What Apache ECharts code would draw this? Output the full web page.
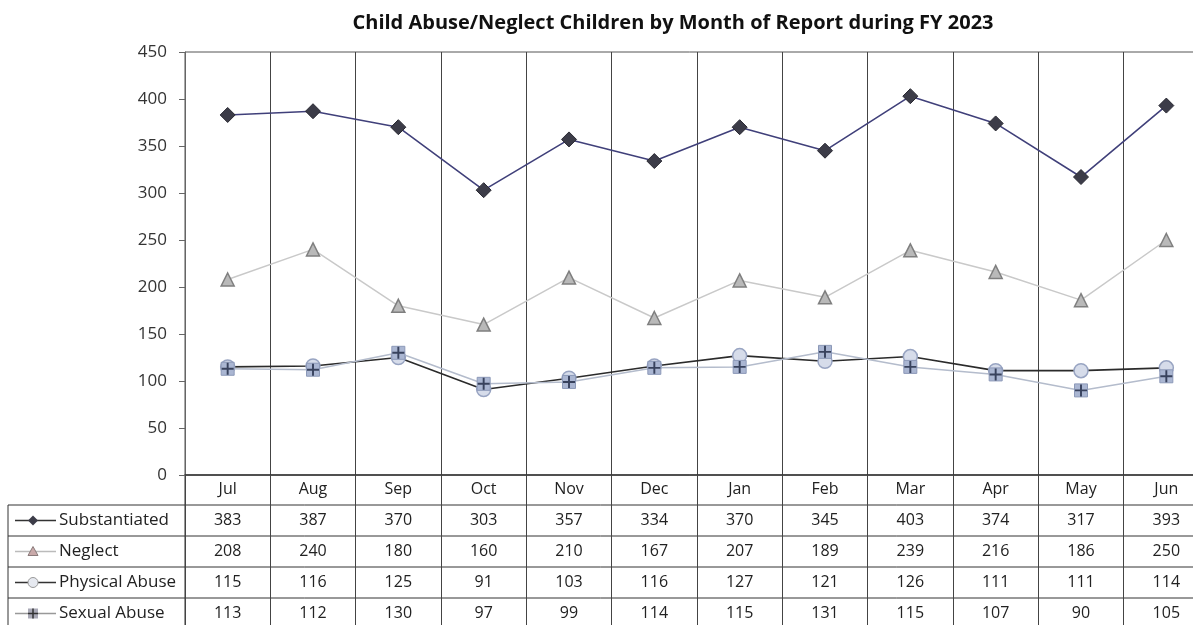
<!DOCTYPE html>
<html>
<head>
<meta charset="utf-8">
<script src="https://cdn.jsdelivr.net/npm/echarts@6/dist/echarts.min.js"></script>
<style>
  html, body { margin: 0; padding: 0; background: #fff; }
  #chart { width: 1193px; height: 625px; }
</style>
</head>
<body>
<div id="chart"></div>
<script>
// data (table under the chart)
const months = ['Jul', 'Aug', 'Sep', 'Oct', 'Nov', 'Dec', 'Jan', 'Feb', 'Mar', 'Apr', 'May', 'Jun'];
const substantiated = [383, 387, 370, 303, 357, 334, 370, 345, 403, 374, 317, 393];
const neglect = [208, 240, 180, 160, 210, 167, 207, 189, 239, 216, 186, 250];
const physicalAbuse = [115, 116, 125, 91, 103, 116, 127, 121, 126, 111, 111, 114];
const sexualAbuse = [113, 112, 130, 97, 99, 114, 115, 131, 115, 107, 90, 105];
const yTicks = [0, 50, 100, 150, 200, 250, 300, 350, 400, 450];

const FONT = '"Open Sans", Lato, sans-serif';
const PLUS = 'path://M4.2,0h1.6v4.2h4.2v1.6h-4.2v4.2h-1.6v-4.2h-4.2v-1.6h4.2z';

const chart = echarts.init(document.getElementById('chart'));

const option = {
  animation: false,
  backgroundColor: '#fff',
  textStyle: { fontFamily: FONT },
  title: {
    text: 'Child Abuse/Neglect Children by Month of Report during FY 2023',
    left: 668,
    textAlign: 'center',
    top: 8,
    textStyle: { fontSize: 20, fontWeight: 'bold', color: '#111', fontFamily: FONT }
  },
  grid: {
    left: 185,
    top: 52,
    right: -16,
    height: 423,
    outerBoundsMode: 'none',
    containLabel: false,
    show: true,
    borderColor: '#555',
    borderWidth: 1
  },
  xAxis: {
    type: 'category',
    data: months,
    boundaryGap: true,
    axisLine: { lineStyle: { color: '#333', width: 1.5 } },
    axisTick: { show: true, interval: 0, length: 150, lineStyle: { color: '#444', width: 1 } },
    axisLabel: { interval: 0, margin: 6, fontSize: 16, color: '#222', fontFamily: FONT },
    splitLine: { show: true, interval: 0, lineStyle: { color: '#444', width: 1 } }
  },
  yAxis: {
    type: 'value',
    min: yTicks[0],
    max: yTicks[yTicks.length - 1],
    interval: 50,
    axisLine: { show: true, lineStyle: { color: '#666' } },
    axisTick: { show: true, length: 6, lineStyle: { color: '#666' } },
    axisLabel: { fontSize: 17, color: '#333', margin: 18, fontFamily: FONT },
    splitLine: { show: false }
  },
  series: [
    {
      name: 'Substantiated',
      type: 'line',
      data: substantiated,
      symbol: 'diamond',
      symbolSize: 15,
      lineStyle: { color: '#40407a', width: 1.6 },
      itemStyle: { color: '#3c3c48', borderColor: '#2a2a33', borderWidth: 1 },
      z: 3
    },
    {
      name: 'Neglect',
      type: 'line',
      data: neglect,
      symbol: 'triangle',
      symbolSize: 13,
      lineStyle: { color: '#c9c9c9', width: 1.5 },
      itemStyle: { color: '#b9b9b9', borderColor: '#7f7f7f', borderWidth: 1.5 },
      z: 3
    },
    {
      name: 'Physical Abuse',
      type: 'line',
      data: physicalAbuse,
      symbol: 'circle',
      symbolSize: 14,
      lineStyle: { color: '#2b2b2b', width: 1.6 },
      itemStyle: { color: '#d6dcea', borderColor: '#98a4c2', borderWidth: 1.5 },
      z: 4
    },
    {
      name: 'Sexual Abuse',
      type: 'line',
      data: sexualAbuse,
      symbol: 'rect',
      symbolSize: 13,
      lineStyle: { color: '#b4bccc', width: 1.5 },
      itemStyle: { color: '#aab6d2', borderColor: '#8c99b8', borderWidth: 1 },
      z: 5
    },
    {
      name: 'Sexual Abuse cross',
      type: 'scatter',
      data: sexualAbuse,
      symbol: PLUS,
      symbolSize: 12,
      itemStyle: { color: '#1c2540' },
      silent: true,
      z: 6
    }
  ]
};

chart.setOption(option);

// data table under the plot
const rows = [
  { name: 'Substantiated', values: substantiated, shape: 'diamond' },
  { name: 'Neglect', values: neglect, shape: 'triangle' },
  { name: 'Physical Abuse', values: physicalAbuse, shape: 'circle' },
  { name: 'Sexual Abuse', values: sexualAbuse, shape: 'square' }
];
const rowTop = 505;
const rowH = 31;
const tableLeft = 8;
const plotLeft = 185;

function legendIcon(shape, cx, cy) {
  const els = [];
  const lineColor = { diamond: '#333', triangle: '#bbb', circle: '#333', square: '#999' }[shape];
  els.push({ type: 'line', shape: { x1: 15, y1: cy, x2: 56, y2: cy }, style: { stroke: lineColor, lineWidth: 1.5 } });
  if (shape === 'diamond') {
    els.push({ type: 'polygon', shape: { points: [[cx, cy - 5], [cx + 5, cy], [cx, cy + 5], [cx - 5, cy]] }, style: { fill: '#3c3c48' } });
  } else if (shape === 'triangle') {
    els.push({ type: 'polygon', shape: { points: [[cx, cy - 5], [cx + 5, cy + 4], [cx - 5, cy + 4]] }, style: { fill: '#c9a9a9', stroke: '#8a7a7a', lineWidth: 1 } });
  } else if (shape === 'circle') {
    els.push({ type: 'circle', shape: { cx: cx, cy: cy, r: 5 }, style: { fill: '#e6e9f0', stroke: '#999', lineWidth: 1 } });
  } else {
    els.push({ type: 'rect', shape: { x: cx - 5, y: cy - 5, width: 10, height: 10 }, style: { fill: '#a9a9b6' } });
    els.push({ type: 'line', shape: { x1: cx, y1: cy - 5, x2: cx, y2: cy + 5 }, style: { stroke: '#333', lineWidth: 1.5 } });
    els.push({ type: 'line', shape: { x1: cx - 5, y1: cy, x2: cx + 5, y2: cy }, style: { stroke: '#333', lineWidth: 1.5 } });
  }
  return els;
}

const graphics = [];
// horizontal rules
for (let r = 0; r < rows.length; r++) {
  graphics.push({
    type: 'line',
    shape: { x1: tableLeft, y1: rowTop + r * rowH, x2: 1193, y2: rowTop + r * rowH },
    style: { stroke: '#333', lineWidth: 1 }
  });
}
// label column borders
graphics.push({ type: 'line', shape: { x1: tableLeft, y1: rowTop, x2: tableLeft, y2: 625 }, style: { stroke: '#333', lineWidth: 1 } });
graphics.push({ type: 'line', shape: { x1: plotLeft, y1: 475, x2: plotLeft, y2: 625 }, style: { stroke: '#333', lineWidth: 1 } });

rows.forEach((row, r) => {
  const cy = rowTop + r * rowH + rowH / 2;
  legendIcon(row.shape, 33, cy).forEach(e => graphics.push(e));
  graphics.push({
    type: 'text',
    style: { text: row.name, x: 59, y: cy, verticalAlign: 'middle', fontSize: 17, fontFamily: FONT, fill: '#222' }
  });
  row.values.forEach((v, i) => {
    const x = chart.convertToPixel({ xAxisIndex: 0 }, i);
    graphics.push({
      type: 'text',
      style: { text: String(v), x: x, y: cy, align: 'center', verticalAlign: 'middle', fontSize: 16, fontFamily: FONT, fill: '#222' }
    });
  });
});

chart.setOption({ graphic: graphics });
</script>
</body>
</html>
